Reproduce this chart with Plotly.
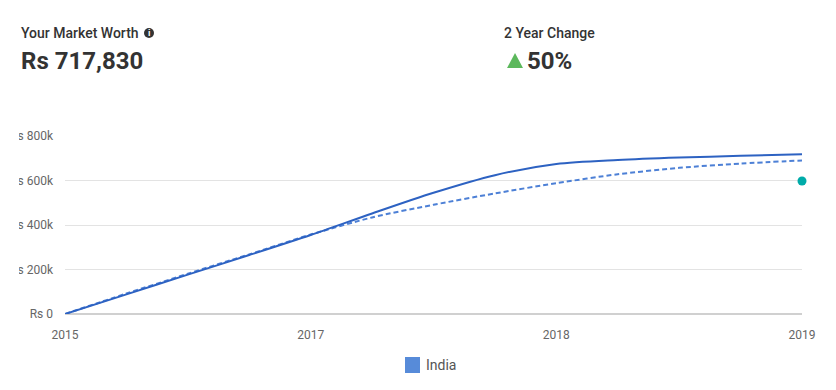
import plotly.graph_objects as go

# ---- data ----
x_years = [0, 0.25, 0.5, 0.75, 1.0, 1.25, 1.5, 1.75, 2.0, 2.25, 2.5, 2.75, 3.0]
market_worth = [0, 88000, 177000, 265000, 355000, 452000, 545000, 624000, 674000,
                692000, 703000, 711000, 717830]
projection = [0, 92000, 181000, 268000, 357000, 434000, 491000, 542000, 588000,
              628000, 657000, 676000, 690000]
target_x = [3.0]
target_y = [598000]

x_tickvals = [0, 1, 2, 3]
x_ticktext = ["2015", "2017", "2018", "2019"]
y_tickvals = [0, 200000, 400000, 600000, 800000]
y_ticktext = ["Rs 0", "Rs 200k", "Rs 400k", "Rs 600k", "Rs 800k"]

legend_name = "India"
title_left = "Your Market Worth"
value_left = "Rs 717,830"
title_right = "2 Year Change"
value_right = "50%"

# ---- layout geometry (pixels); page has an 8px body margin ----
W, H = 820, 374
L, R, T, B = 57, 26, 128, 68
PW, PH = W - L - R, H - T - B
PLOT_LEFT_PAGE, PLOT_BOTTOM_PAGE = 65, 314


def px(x):
    return (x - PLOT_LEFT_PAGE) / PW


def py(y):
    return (PLOT_BOTTOM_PAGE - y) / PH


FONT = "Roboto, Arial, sans-serif"

fig = go.Figure()
fig.add_trace(go.Scatter(
    x=x_years, y=projection, mode="lines",
    line=dict(color="#4d80d6", width=2, dash="5px,3px", shape="spline", smoothing=0.8),
    showlegend=False, hoverinfo="skip"))
fig.add_trace(go.Scatter(
    x=x_years, y=market_worth, mode="lines",
    line=dict(color="#2d62c2", width=2, shape="spline", smoothing=0.8),
    showlegend=False, hoverinfo="skip"))
fig.add_trace(go.Scatter(
    x=target_x, y=target_y, mode="markers", marker=dict(color="#00aba9", size=9),
    cliponaxis=False, showlegend=False, hoverinfo="skip"))

shapes = []
# mask clipping the left edge of the y tick labels
shapes.append(dict(type="rect", xref="paper", yref="paper", x0=px(0), x1=px(19), y0=py(320), y1=py(125),
                   fillcolor="white", line=dict(width=0), layer="above"))
# info icon
shapes.append(dict(type="circle", xref="paper", yref="paper", x0=px(144), x1=px(154), y0=py(38), y1=py(28),
                   fillcolor="#333333", line=dict(width=0), layer="above"))
# green triangle
shapes.append(dict(type="path", xref="paper", yref="paper",
                   path=f"M {px(507)} {py(68)} L {px(523)} {py(68)} L {px(515)} {py(53)} Z",
                   fillcolor="#5cb85c", line=dict(width=0), layer="above"))
# legend swatch
shapes.append(dict(type="rect", xref="paper", yref="paper", x0=px(405), x1=px(420), y0=py(373), y1=py(357),
                   fillcolor="#578bd9", line=dict(width=0), layer="above"))

annotations = [
    dict(text=title_left, x=px(19), y=py(33), font=dict(size=14, color="#333333", family=FONT, weight=500)),
    dict(text="i", x=px(149), y=py(33), xanchor="center",
         font=dict(size=9, color="white", family="Arial", weight="bold")),
    dict(text=value_left, x=px(19), y=py(61), font=dict(size=24, color="#333333", family=FONT, weight="bold")),
    dict(text=title_right, x=px(502), y=py(33), font=dict(size=14, color="#333333", family=FONT, weight=500)),
    dict(text=value_right, x=px(525), y=py(61), font=dict(size=24, color="#333333", family=FONT, weight="bold")),
    dict(text=legend_name, x=px(424), y=py(365), font=dict(size=14, color="#555555", family=FONT)),
]
for a in annotations:
    a.setdefault("xanchor", "left")
    a.update(xref="paper", yref="paper", yanchor="middle", showarrow=False)

fig.update_layout(
    width=W, height=H, margin=dict(l=L, r=R, t=T, b=B, autoexpand=False),
    paper_bgcolor="white", plot_bgcolor="white",
    font=dict(family=FONT, color="#666666", size=12),
    shapes=shapes, annotations=annotations, showlegend=False,
    xaxis=dict(range=[0, 3], tickvals=x_tickvals, ticktext=x_ticktext, showgrid=False, zeroline=False,
               showline=False, ticks="", ticklabelstandoff=12, tickfont=dict(size=12, color="#666666"),
               fixedrange=True, automargin=False),
    yaxis=dict(range=[0, 800000], tickvals=y_tickvals, ticktext=y_ticktext, showgrid=True, gridcolor="#e3e3e3",
               gridwidth=1, zeroline=True, zerolinecolor="#d0d0d0", zerolinewidth=2, showline=False, ticks="",
               ticklabelstandoff=11, tickfont=dict(size=12, color="#666666"), fixedrange=True, automargin=False),
)

fig.write_html("out.html")
